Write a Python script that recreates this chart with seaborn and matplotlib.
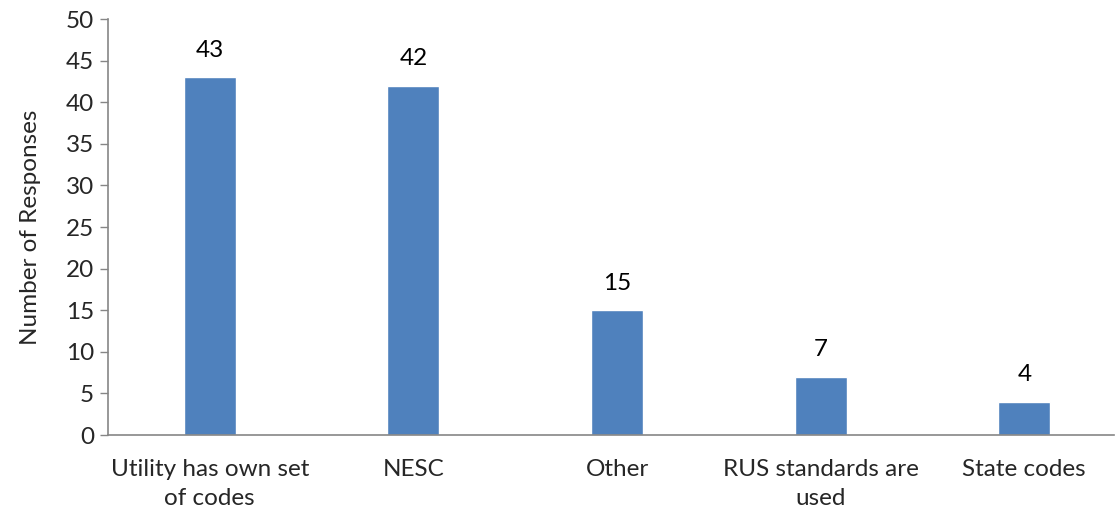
import matplotlib
matplotlib.use("Agg")
import matplotlib.pyplot as plt
import seaborn as sns
import pandas as pd

categories = ["Utility has own set\nof codes", "NESC", "Other", "RUS standards are\nused", "State codes"]
values = [43, 42, 15, 7, 4]
yticks = [0, 5, 10, 15, 20, 25, 30, 35, 40, 45, 50]

sns.set_style("white")
plt.rcParams['font.family'] = ['Lato', 'DejaVu Sans']
FS = 17.5

fig = plt.figure(figsize=(11.15, 5.17), dpi=100)
ax = fig.add_axes([108/1115, (517-435)/517, 1 - 108/1115 - 0.001, (435-19)/517])

df = pd.DataFrame({"cat": categories, "val": values})
sns.barplot(data=df, x="cat", y="val", color="#4F81BD", saturation=1, width=0.255, ax=ax)

for i, v in enumerate(values):
    ax.annotate(str(v), (i, v), xytext=(0, 12), textcoords="offset points",
                ha="center", va="bottom", fontsize=FS, color="black")

ax.set_ylim(0, 50)
ax.set_xlim(-0.5, 4.44)
ax.set_yticks(yticks)
ax.set_yticklabels([str(t) for t in yticks], fontsize=FS)
ax.tick_params(axis="y", which="both", left=True, length=6, width=1, color="#868686", pad=4)
ax.tick_params(axis="x", bottom=False, pad=14, labelsize=FS)
for lbl in ax.get_xticklabels():
    lbl.set_linespacing(1.45)
ax.set_xlabel("")
ax.set_ylabel("Number of Responses", fontsize=FS, labelpad=18)
for s in ["top", "right"]:
    ax.spines[s].set_visible(False)
for s in ["left", "bottom"]:
    ax.spines[s].set_color("#868686")
    ax.spines[s].set_linewidth(1.2)

fig.savefig("out.png", dpi=100)
